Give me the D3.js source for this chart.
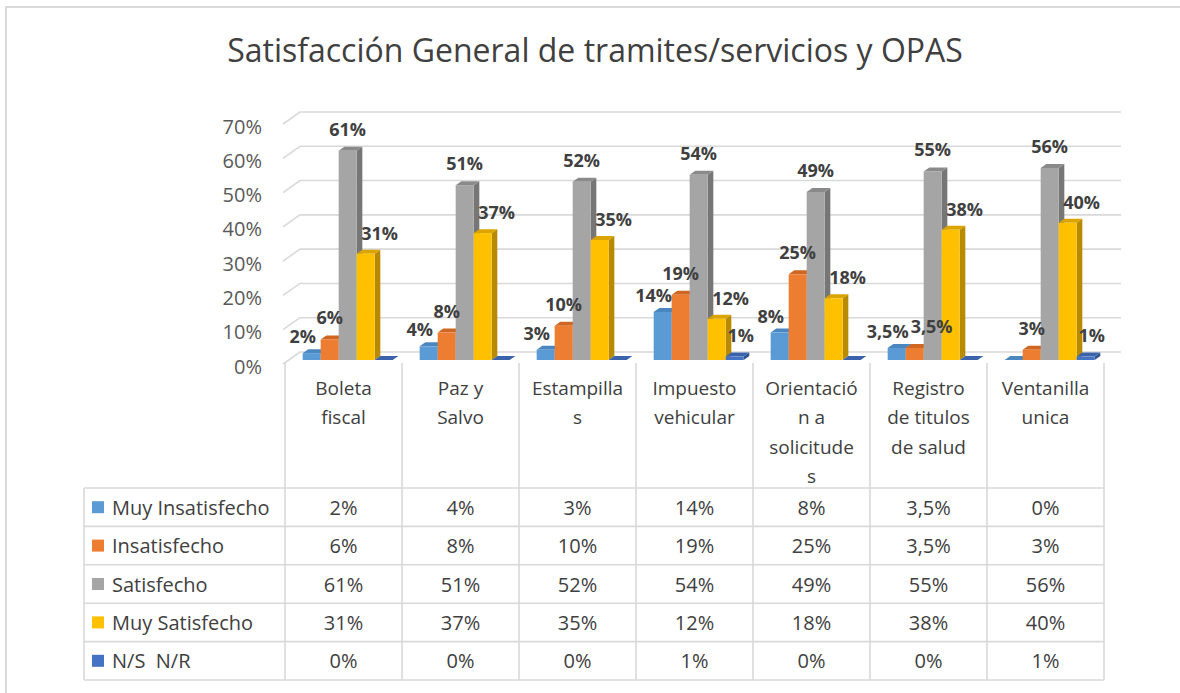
<!DOCTYPE html>
<html>
<head>
<meta charset="utf-8">
<script src="https://cdn.jsdelivr.net/npm/d3@7"></script>
<style>
  body { margin: 0; background: #fff; }
  svg { display: block; font-family: "Open Sans", sans-serif; }
</style>
</head>
<body>
<div id="chart"></div>
<script>
// data (percent)
const categories = ["Boleta fiscal", "Paz y Salvo", "Estampillas", "Impuesto vehicular",
  "Orientación a solicitudes", "Registro de titulos de salud", "Ventanilla unica"];
const categoryLines = [["Boleta", "fiscal"], ["Paz y", "Salvo"], ["Estampilla", "s"],
  ["Impuesto", "vehicular"], ["Orientació", "n a", "solicitude", "s"],
  ["Registro", "de titulos", "de salud"], ["Ventanilla", "unica"]];
const seriesNames = ["Muy Insatisfecho", "Insatisfecho", "Satisfecho", "Muy Satisfecho", "N/S  N/R"];
const muyInsatisfecho = [2, 4, 3, 14, 8, 3.5, 0];
const insatisfecho = [6, 8, 10, 19, 25, 3.5, 3];
const satisfecho = [61, 51, 52, 54, 49, 55, 56];
const muySatisfecho = [31, 37, 35, 12, 18, 38, 40];
const nsnr = [0, 0, 0, 1, 0, 0, 1];
const yTicks = [0, 10, 20, 30, 40, 50, 60, 70];
const seriesValues = [muyInsatisfecho, insatisfecho, satisfecho, muySatisfecho, nsnr];

const colors = [
  {front: "#5B9BD5", top: "#4A86C0", side: "#41719C"},
  {front: "#ED7D31", top: "#CF6622", side: "#AE5A21"},
  {front: "#A5A5A5", top: "#8A8A8A", side: "#767676"},
  {front: "#FFC000", top: "#DBA400", side: "#B88A00"},
  {front: "#4472C4", top: "#3A63AC", side: "#2F528F"}
];

const W = 1180, H = 693;
const fmt = v => String(v).replace(".", ",") + "%";

const svg = d3.select("#chart").append("svg")
  .attr("width", W).attr("height", H);

// frame
svg.append("path")
  .attr("d", "M6,693 L6,7 L1180,7")
  .attr("fill", "none").attr("stroke", "#d9d9d9").attr("stroke-width", 2);

// title
svg.append("text")
  .attr("x", 595).attr("y", 62)
  .attr("text-anchor", "middle")
  .attr("font-size", 32)
  .attr("fill", "#404040")
  .text("Satisfacción General de tramites/servicios y OPAS");

// 3d geometry
const frontLeft = 285, frontRight = 1104;
const depth = {dx: 17, dy: -12};
const x = d3.scaleBand().domain(categories).range([frontLeft, frontRight]);
const xs = d3.scaleBand().domain(seriesNames).range([12, 102]);
const y = d3.scaleLinear().domain([0, 70]).range([364, 124]);

// walls gridlines
const grid = svg.append("g").attr("stroke", "#d9d9d9").attr("stroke-width", 1.6).attr("fill", "none");
yTicks.forEach(t => {
  grid.append("path")
    .attr("d", `M${frontLeft - 2},${y(t)} L${frontLeft - 2 + depth.dx},${y(t) + depth.dy} L${frontRight + depth.dx},${y(t) + depth.dy}`);
});

// y axis labels
svg.append("g").selectAll("text").data(yTicks).join("text")
  .attr("x", 262).attr("y", d => y(d) + 2)
  .attr("text-anchor", "end").attr("dominant-baseline", "central")
  .attr("font-size", 20).attr("fill", "#595959")
  .text(d => d + "%");

// bars: front face at 1/3 of depth, 1/3 deep
const bdx = depth.dx / 3, bdy = depth.dy / 3;
const bw = xs.bandwidth();
const bars = svg.append("g");
categories.forEach((c, ci) => {
  seriesNames.forEach((s, si) => {
    const v = seriesValues[si][ci];
    const x0 = x(c) + xs(s) + bdx;
    const yb = y(0) + bdy;
    const yt = y(v) + bdy;
    const col = colors[si];
    const g = bars.append("g");
    g.append("path")
      .attr("d", `M${x0 + bw},${yt} L${x0 + bw + bdx},${yt + bdy} L${x0 + bw + bdx},${yb + bdy} L${x0 + bw},${yb}Z`)
      .attr("fill", col.side);
    g.append("path")
      .attr("d", `M${x0},${yt} L${x0 + bdx},${yt + bdy} L${x0 + bw + bdx},${yt + bdy} L${x0 + bw},${yt}Z`)
      .attr("fill", col.top);
    if (v > 0) {
      g.append("rect")
        .attr("x", x0).attr("y", yt).attr("width", bw).attr("height", yb - yt)
        .attr("fill", col.front);
    }
  });
});

// data labels, pushed right when they would run into the previous one
const labelDx = [-9, 0, 0, 14, 6];
const labelDy = [-10, -15, -15, -14, -15];
const labels = svg.append("g")
  .attr("font-size", 18).attr("font-weight", "bold").attr("fill", "#404040")
  .attr("text-anchor", "middle");
categories.forEach((c, ci) => {
  let prev = null;
  seriesNames.forEach((s, si) => {
    const v = seriesValues[si][ci];
    if (v === 0) return;
    let lx = x(c) + xs(s) + bdx + bw / 2 + labelDx[si];
    const ly = y(v) + bdy + labelDy[si];
    const t = labels.append("text").attr("y", ly).text(fmt(v));
    const w = t.node().getComputedTextLength();
    if (prev && Math.abs(prev.y - ly) < 16 && lx - w / 2 < prev.right + 2) {
      lx = prev.right + 2 + w / 2;
    }
    t.attr("x", lx);
    prev = {y: ly, right: lx + w / 2};
  });
});

// data table
const tableLeft = 84, rowTop = 488, rowH = 38.4, headTop = 363;
const lines = svg.append("g").attr("stroke", "#d9d9d9").attr("stroke-width", 1.6);
for (let r = 0; r <= seriesNames.length; r++) {
  lines.append("line")
    .attr("x1", tableLeft).attr("x2", frontRight)
    .attr("y1", rowTop + r * rowH).attr("y2", rowTop + r * rowH);
}
const tableBottom = rowTop + seriesNames.length * rowH;
lines.append("line").attr("x1", tableLeft).attr("x2", tableLeft)
  .attr("y1", rowTop).attr("y2", tableBottom);
categories.concat([null]).forEach(c => {
  const xx = c === null ? frontRight : x(c);
  lines.append("line").attr("x1", xx).attr("x2", xx)
    .attr("y1", headTop).attr("y2", tableBottom);
});

// category labels
const cat = svg.append("g").attr("font-size", 19).attr("fill", "#404040").attr("text-anchor", "middle");
categories.forEach((c, ci) => {
  categoryLines[ci].forEach((ln, li) => {
    cat.append("text")
      .attr("x", x(c) + x.bandwidth() / 2)
      .attr("y", 388 + li * 29.3)
      .attr("dominant-baseline", "central")
      .text(ln);
  });
});

// legend column + values
const tbl = svg.append("g").attr("font-size", 20).attr("fill", "#404040");
seriesNames.forEach((s, si) => {
  const cy = rowTop + si * rowH + rowH / 2;
  tbl.append("rect").attr("x", 92).attr("y", cy - 6).attr("width", 12).attr("height", 12)
    .attr("fill", colors[si].front);
  tbl.append("text").attr("x", 112).attr("y", cy).attr("dominant-baseline", "central")
    .text(s).style("white-space", "pre");
  categories.forEach((c, ci) => {
    tbl.append("text")
      .attr("x", x(c) + x.bandwidth() / 2).attr("y", cy)
      .attr("text-anchor", "middle").attr("dominant-baseline", "central")
      .text(fmt(seriesValues[si][ci]));
  });
});
</script>
</body>
</html>
